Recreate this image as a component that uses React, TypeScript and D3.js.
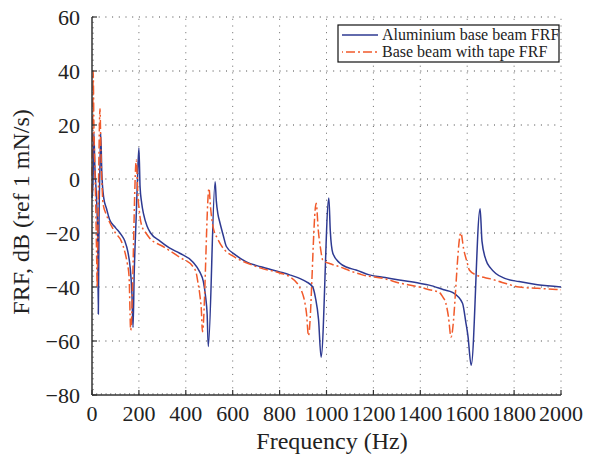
import React from "react";
import * as d3 from "d3";

const blueF = [0, 4, 8, 12, 18, 24, 27, 30, 34, 37, 42, 50, 62, 75, 100, 125, 140, 153, 163, 170, 175, 180, 188, 194, 200, 205, 212, 220, 235, 250, 290, 330, 374, 430, 460, 475, 485, 491, 496, 525, 530, 537, 545, 560, 573, 610, 658, 720, 800, 843, 890, 913, 941, 953, 966, 977, 1010, 1016, 1027, 1055, 1090, 1126, 1183, 1250, 1310, 1396, 1438, 1500, 1537, 1580, 1594, 1603, 1617, 1655, 1663, 1680, 1700, 1722, 1760, 1821, 1900, 2000];
const blueV = [-7, -2, 17, 5, -5, -20, -50, -15, 5, 17, 2, -7, -11, -15, -18, -20.7, -23, -27, -33, -42, -55, -35, -15, 0, 11.5, -3, -9, -13, -17.5, -20, -23, -25.5, -27.5, -30.7, -34.5, -38, -44, -50, -62, -1, -8, -13, -16, -21, -25, -28, -30.7, -32.5, -34.4, -35.5, -37, -38, -40, -44, -52, -66, -7, -19, -27.5, -31, -32.8, -33.7, -35.5, -36.5, -37.4, -38.6, -39.3, -41, -42, -46, -53, -58, -69, -11, -23, -30, -33, -35, -36.8, -38, -39.2, -40];

const tapeF = [0, 3, 5, 8, 12, 16, 20, 22, 25, 29, 34, 38, 43, 47, 60, 75, 100, 125, 140, 150, 158, 165, 189, 195, 202, 211, 230, 247, 303, 374, 431, 445, 452, 460, 466, 471, 499, 505, 516, 535, 559, 600, 658, 720, 800, 843, 885, 900, 906, 915, 923, 956, 965, 975, 984, 1020, 1055, 1100, 1153, 1250, 1310, 1396, 1438, 1481, 1495, 1509, 1520, 1531, 1573, 1585, 1600, 1609, 1637, 1651, 1700, 1749, 1821, 1900, 2000];
const tapeV = [-5, 20, 40, 20, 5, -10, -30, -40, -20, 5, 26, 10, -3, -9, -13, -16, -20, -23, -27, -31, -36, -56, 7, -5, -12, -17, -20, -22, -25, -29, -32.5, -35, -38.5, -43, -48, -56.6, -3.5, -10, -17.6, -22, -25.6, -28.5, -31, -33, -34.8, -36.2, -40, -43, -45, -50, -58, -9, -19, -26, -30, -31.5, -32.5, -34, -35.5, -37, -38.5, -40, -41, -42, -43.6, -46, -51, -58.5, -20, -26, -31, -33.7, -35.5, -36, -37, -38.3, -40, -40.5, -41];

const xTicks = [0, 200, 400, 600, 800, 1000, 1200, 1400, 1600, 1800, 2000];
const yTicks = [-80, -60, -40, -20, 0, 20, 40, 60];
const seriesNames = ["Aluminium base beam FRF", "Base beam with tape FRF"];

const W = 589, H = 462;
const L = 92, R = 561, T = 17, B = 395;
const BLUE = "#2E3A92";
const ORANGE = "#F15A2B";
const FONT = "'Liberation Serif', 'Times New Roman', serif";

export default function App() {
  const x = d3.scaleLinear().domain([0, 2000]).range([L, R]);
  const y = d3.scaleLinear().domain([-80, 60]).range([B, T]);
  const line = d3
    .line<[number, number]>()
    .x((d) => x(d[0]))
    .y((d) => y(d[1]))
    .curve(d3.curveMonotoneX);
  const blue = line(blueF.map((f, i) => [f, blueV[i]] as [number, number])) || "";
  const tape = line(tapeF.map((f, i) => [f, tapeV[i]] as [number, number])) || "";
  const minorX = d3.range(0, 2001, 20);
  const minorY = d3.range(-80, 61, 2);
  const dash = "1,5.7";

  return (
    <svg
      width={W}
      height={H}
      style={{ position: "absolute", left: 0, top: 0, background: "#fff" }}
      fontFamily={FONT}
    >
      <rect x={0} y={0} width={W} height={H} fill="#fff" />
      {/* grid */}
      {xTicks.filter((t) => t > 0).map((t) => (
        <line key={"gx" + t} x1={x(t)} x2={x(t)} y1={B} y2={T} stroke="#666" strokeWidth={1} strokeDasharray={dash} />
      ))}
      {yTicks.filter((t) => t > -80).map((t) => (
        <line key={"gy" + t} x1={L} x2={R} y1={y(t)} y2={y(t)} stroke="#444" strokeWidth={1} strokeDasharray={dash} />
      ))}
      {/* minor ticks */}
      {minorX.map((t) => (
        <line key={"mx" + t} x1={x(t)} x2={x(t)} y1={B} y2={B - 2} stroke="#555" strokeWidth={0.6} />
      ))}
      {minorY.map((t) => (
        <line key={"my" + t} x1={L} x2={L + 2} y1={y(t)} y2={y(t)} stroke="#555" strokeWidth={0.6} />
      ))}
      {/* series */}
      <path d={blue} fill="none" stroke={BLUE} strokeWidth={1.5} />
      <path d={tape} fill="none" stroke={ORANGE} strokeWidth={1.5} strokeDasharray="9,3,2,3" />
      {/* axes */}
      <line x1={L} x2={L} y1={T} y2={B} stroke="#333" strokeWidth={1.5} />
      <line x1={L} x2={R} y1={B} y2={B} stroke="#333" strokeWidth={1.5} />
      {xTicks.map((t) => (
        <line key={"tx" + t} x1={x(t)} x2={x(t)} y1={B} y2={B - 5} stroke="#333" strokeWidth={1.2} />
      ))}
      {yTicks.map((t) => (
        <line key={"ty" + t} x1={L} x2={L + 5} y1={y(t)} y2={y(t)} stroke="#333" strokeWidth={1.2} />
      ))}
      {/* tick labels */}
      {xTicks.map((t) => (
        <text key={"lx" + t} x={x(t)} y={B + 26} textAnchor="middle" fontSize={22} fill="#222">
          {String(t)}
        </text>
      ))}
      {yTicks.map((t) => (
        <text key={"ly" + t} x={L - 12} y={y(t) + 8} textAnchor="end" fontSize={22} fill="#222">
          {t < 0 ? "\u2212" + Math.abs(t) : String(t)}
        </text>
      ))}
      {/* axis titles */}
      <text x={332} y={B + 54} textAnchor="middle" fontSize={24} fill="#222">
        Frequency (Hz)
      </text>
      <text
        transform={`translate(${29},${212}) rotate(-90)`}
        textAnchor="middle"
        fontSize={24}
        fill="#222"
      >
        FRF, dB (ref 1 mN/s)
      </text>
      {/* legend */}
      <g>
        <rect x={338} y={25} width={221} height={37} fill="#fff" stroke="#111" strokeWidth={1.2} />
        <line x1={342} x2={378} y1={35} y2={35} stroke={BLUE} strokeWidth={1.5} />
        <line x1={342} x2={378} y1={52} y2={52} stroke={ORANGE} strokeWidth={1.5} strokeDasharray="9,3,2,3" strokeDashoffset={-4} />
        <text x={382} y={40} fontSize={16} fill="#222">{seriesNames[0]}</text>
        <text x={382} y={57} fontSize={16} fill="#222">{seriesNames[1]}</text>
      </g>
    </svg>
  );
}
